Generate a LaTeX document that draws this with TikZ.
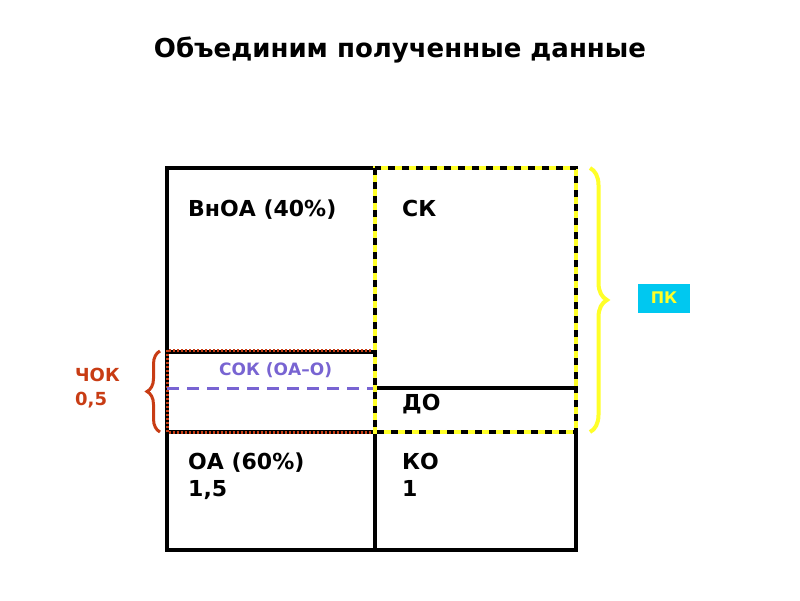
\documentclass[tikz,border=0pt]{standalone}
\usepackage{fontspec}
\setmainfont{DejaVu Sans}
\usetikzlibrary{decorations.pathreplacing}
\definecolor{okred}{RGB}{200,60,20}
\definecolor{okpurple}{RGB}{120,100,210}
\definecolor{okyellow}{RGB}{255,255,40}
\definecolor{okcyan}{RGB}{0,200,240}
\tikzset{lbl/.style={anchor=north west,inner sep=0pt,font=\bfseries\fontsize{22}{27}\selectfont,align=left},
 wall/.style={line width=3.2pt}}
\begin{document}
\begin{tikzpicture}[x=1pt,y=-1pt]
\useasboundingbox (0,0) rectangle (800,600);
\node (title) at (400,50) {\bfseries\fontsize{26}{30}\selectfont Объединим полученные данные};
\draw[wall] (167,168) rectangle (576,550);
\draw[wall] (375,168) -- (375,550);
\draw[wall] (167,352) -- (375,352);
\draw[wall] (375,388) -- (576,388);
\draw[wall] (167,432) -- (576,432);
\draw[okred,line width=3pt,dash pattern=on 2pt off 2pt] (167,350) rectangle (375,432);
\draw[okpurple,line width=3pt,dash pattern=on 12pt off 8pt] (167,388) -- (375,388);
\draw[okyellow,line width=3.5pt] (375,168) rectangle (576,432);
\draw[black,line width=3.5pt,dash pattern=on 7pt off 7pt] (375,168) rectangle (576,432);
\node[lbl] (vnoa) at (188,200) {ВнОА (40\%)};
\node[lbl] (sk) at (402,200) {СК};
\node[lbl,text=okpurple,font=\bfseries\fontsize{17}{20}\selectfont] (sok) at (219,362) {СОК (ОА–О)};
\node[lbl] (do) at (402,394) {ДО};
\node[lbl] (oa) at (188,453) {ОА (60\%)\\1,5};
\node[lbl] (ko) at (402,453) {КО\\1};
\draw[okred,line width=3pt,decorate,decoration={brace,amplitude=13pt}] (160,432) -- (160,351);
\node[lbl,text=okred,font=\bfseries\fontsize{18}{24}\selectfont] (chok) at (75,368) {ЧОК\\0,5};
\draw[okyellow,line width=4pt,decorate,decoration={brace,amplitude=17pt}] (590,168) -- (590,432);
\node[fill=okcyan,text=okyellow,minimum width=52pt,minimum height=29pt,inner sep=0pt,font=\bfseries\fontsize{16}{18}\selectfont] (pk) at (664,298) {ПК};
\end{tikzpicture}
\end{document}
